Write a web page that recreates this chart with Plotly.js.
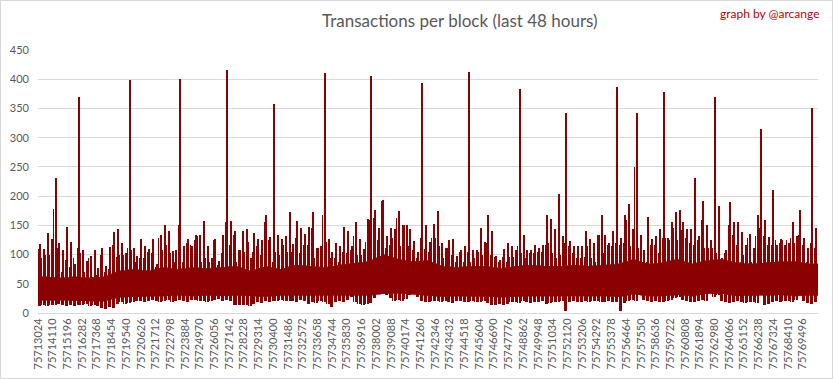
<!DOCTYPE html>
<html>
<head>
<meta charset="utf-8">
<script src="https://cdn.plot.ly/plotly-3.0.1.min.js"></script>
<style>
  html, body { margin: 0; padding: 0; background: #fff; }
  #chart { width: 833px; height: 379px; }
  #frame { position: absolute; left: 0; top: 0; width: 831px; height: 377px; border: 1px solid #d9d9d9; pointer-events: none; }
</style>
</head>
<body>
<div id="chart"></div>
<div id="frame"></div>
<script>
// First block of the 48-hour window and block count
const firstBlock = 75713024;
const totalBlocks = 57600;
// Per-bucket readings use buckets of 288 blocks
const bucketBlocks = 288;
// Dense-core readings use one value per label interval of 1086 blocks
const intervalBlocks = 1086;

// Highest transactions-per-block value seen in each 288-block bucket
const blockMax = [
  118,110,137,127,231,120,107,147,122,84,
  370,108,89,97,107,77,111,80,113,139,
  143,120,102,398,111,98,126,114,110,127,
  83,133,150,141,106,108,400,114,127,114,
  134,133,157,114,94,126,89,133,416,
  158,140,108,141,143,94,137,126,125,168,130,
  358,134,126,131,172,118,158,146,135,147,
  172,111,114,410,127,104,119,114,147,140,
  114,155,127,110,160,406,177,145,193,131,
  145,143,174,150,151,143,123,104,
  393,150,122,153,175,119,111,125,126,98,108,114,
  412,108,108,146,122,168,140,97,91,110,
  120,114,108,383,133,108,108,117,111,117,
  167,160,143,203,131,343,123,114,114,114,
  140,126,120,134,167,134,120,140,387,
  129,168,186,143,343,133,108,164,127,131,144,
  378,129,155,172,176,156,143,144,231,131,
  191,150,125,370,183,94,108,190,155,156,
  139,117,136,111,168,315,159,130,210,117,
  126,117,120,156,131,176,129,111,350,146
];

// Second-highest peak seen in each 288-block bucket
const blockHigh = [
  110,94,99,99,178,111,70,91,79,94,
  111,102,71,94,62,65,99,71,75,116,
  96,99,99,111,108,88,94,94,105,102,
  79,128,108,116,102,88,151,88,120,116,
  125,131,88,94,88,125,82,102,156,
  116,134,88,108,105,122,105,114,99,156,125,
  88,105,99,116,105,105,128,102,116,116,
  145,94,111,168,122,94,94,88,105,102,
  108,131,99,99,122,159,162,125,191,111,
  116,128,162,114,151,114,108,94,
  128,110,105,128,128,114,94,111,99,88,105,88,
  105,88,94,105,100,120,100,96,88,96,
  88,96,96,114,102,94,102,102,105,105,
  116,119,102,94,99,119,114,102,94,94,
  96,114,94,88,134,102,116,114,119,
  116,119,159,114,250,111,88,88,116,116,102,
  128,128,125,145,125,142,128,120,116,125,
  159,111,111,111,102,88,102,151,134,116,
  88,99,128,88,131,145,131,116,116,125,
  119,125,125,128,119,134,116,88,119,111
];

// Lowest transactions-per-block value seen in each 288-block bucket
const blockMin = [
  12,14,12,13,14,15,13,12,14,12,
  13,13,15,12,14,12,8,7,10,9,
  16,18,16,17,18,20,21,19,20,22,
  21,19,20,22,18,20,22,21,19,23,
  22,21,20,19,21,22,24,21,22,
  20,14,13,13,14,12,15,18,17,20,18,
  20,20,22,20,21,20,19,22,21,15,
  18,17,20,19,16,11,18,20,19,22,
  28,18,16,14,15,17,25,38,42,30,
  25,20,22,21,24,30,32,28,
  20,19,18,20,21,19,20,18,17,20,21,19,
  18,20,19,18,20,17,14,13,15,14,
  16,18,19,17,20,18,17,19,18,20,
  16,17,19,18,20,4,18,20,19,18,
  20,19,21,20,19,18,20,19,18,
  3,17,20,22,20,35,22,20,18,20,19,
  18,20,22,25,28,22,20,19,18,20,
  22,21,40,28,30,20,18,17,19,20,
  18,17,19,18,17,30,14,16,18,20,
  19,21,20,19,22,30,20,17,16,18
];

// Upper / lower edge of the solid part of the band, per label interval
const coreTop = [
  62,60,62,60,62,72,75,72,78,75,78,76,78,80,72,80,75,82,
  80,78,82,85,88,100,92,88,90,80,78,80,80,76,80,82,80,80,
  82,80,82,84,92,84,86,92,84,90,92,86,84,86,88,88,84
];
const coreBottom = [
  22,22,21,20,20,27,28,28,29,30,29,30,29,30,29,28,30,29,
  30,29,30,30,30,33,34,31,30,28,29,29,28,27,28,29,29,30,
  30,29,29,28,32,29,29,31,29,33,33,29,29,30,31,29,30
];

// Category axis tick labels (block numbers)
const tickLabels = [
  75713024,75714110,75715196,75716282,75717368,75718454,75719540,75720626,75721712,75722798,
  75723884,75724970,75726056,75727142,75728228,75729314,75730400,75731486,75732572,75733658,
  75734744,75735830,75736916,75738002,75739088,75740174,75741260,75742346,75743432,75744518,
  75745604,75746690,75747776,75748862,75749948,75751034,75752120,75753206,75754292,75755378,
  75756464,75757550,75758636,75759722,75760808,75761894,75762980,75764066,75765152,75766238,
  75767324,75768410,75769496
];

const yTicks = [0,50,100,150,200,250,300,350,400,450];
const RED = '#8b0000';
const lastBlock = firstBlock + totalBlocks - 1;

// Dense core: closed polygon through interval mid-points (top, then back along bottom)
const cx = [], cy = [];
cx.push(firstBlock); cy.push(coreTop[0]);
for (let k = 0; k < coreTop.length; k++) {
  cx.push(Math.min(firstBlock + (k + 0.5) * intervalBlocks, lastBlock)); cy.push(coreTop[k]);
}
cx.push(lastBlock); cy.push(coreTop[coreTop.length - 1]);
cx.push(lastBlock); cy.push(coreBottom[coreBottom.length - 1]);
for (let k = coreBottom.length - 1; k >= 0; k--) {
  cx.push(Math.min(firstBlock + (k + 0.5) * intervalBlocks, lastBlock)); cy.push(coreBottom[k]);
}
cx.push(firstBlock); cy.push(coreBottom[0]);
const core = {
  x: cx, y: cy, type: 'scatter', mode: 'lines', fill: 'toself',
  fillcolor: RED, line: { color: RED, width: 0.5 },
  hoverinfo: 'skip', showlegend: false
};

// Per-bucket vertical strokes: min -> second peak (thin), min -> max (wider)
const hx = [], hy = [], mx = [], my = [];
for (let i = 0; i < blockMax.length; i++) {
  const b = firstBlock + i * bucketBlocks;
  hx.push(b, b, null); hy.push(blockMin[i], blockHigh[i], null);
  const m = b + bucketBlocks / 2;
  mx.push(m, m, null); my.push(blockMin[i], blockMax[i], null);
}
const highStrokes = {
  x: hx, y: hy, type: 'scatter', mode: 'lines',
  line: { color: RED, width: 1 }, connectgaps: false,
  hoverinfo: 'skip', showlegend: false
};
const maxStrokes = {
  x: mx, y: my, type: 'scatter', mode: 'lines',
  line: { color: RED, width: 2 }, connectgaps: false,
  hoverinfo: 'skip', showlegend: false
};

const layout = {
  width: 833, height: 379,
  margin: { l: 38, r: 15, t: 50, b: 66 },
  paper_bgcolor: '#ffffff', plot_bgcolor: '#ffffff',
  font: { family: 'Lato, "Open Sans", sans-serif', color: '#595959' },
  title: {
    text: 'Transactions per block (last 48 hours)',
    font: { family: 'Lato, "Open Sans", sans-serif', size: 17, color: '#595959' },
    x: 0.552, xref: 'container', xanchor: 'center',
    y: 0.945, yref: 'container', yanchor: 'middle'
  },
  xaxis: {
    type: 'linear',
    range: [firstBlock - 0.5, firstBlock + totalBlocks - 0.5],
    tickmode: 'array',
    tickvals: tickLabels,
    ticktext: tickLabels.map(String),
    tickangle: -90,
    tickfont: { size: 11, color: '#595959', family: 'Lato, "Open Sans", sans-serif' },
    showgrid: false, zeroline: false,
    showline: true, linecolor: '#d9d9d9', linewidth: 1,
    ticks: '', fixedrange: true
  },
  yaxis: {
    range: [0, 450],
    tickmode: 'array', tickvals: yTicks, ticktext: yTicks.map(String),
    tickfont: { size: 11, color: '#595959', family: 'Lato, "Open Sans", sans-serif' },
    showgrid: true, gridcolor: '#d9d9d9', gridwidth: 1,
    zeroline: false, showline: false, ticks: '', ticklabelstandoff: 8,
    fixedrange: true
  },
  annotations: [{
    text: 'graph by @arcange',
    xref: 'paper', yref: 'paper',
    x: 1.005, y: 1.137, xanchor: 'right', yanchor: 'middle',
    showarrow: false,
    font: { family: 'Lato, "Open Sans", sans-serif', size: 12, color: '#c00000' }
  }]
};

Plotly.newPlot('chart', [core, highStrokes, maxStrokes], layout, { displayModeBar: false, staticPlot: true })
  .then(function () {
    // Render the dense strokes without anti-aliasing so they stay solid dark red
    document.querySelectorAll('#chart .scatterlayer path.js-line').forEach(function (p) {
      p.style.shapeRendering = 'crispEdges';
    });
  });
</script>
</body>
</html>
